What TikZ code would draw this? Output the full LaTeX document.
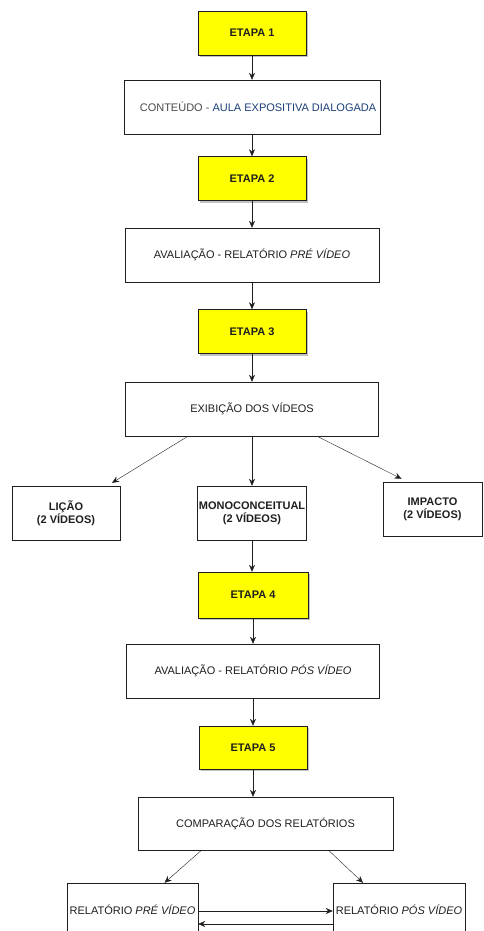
\documentclass[tikz,border=0pt]{standalone}
\usepackage{fontspec}
\setmainfont{Liberation Sans}
\usetikzlibrary{arrows.meta,calc,shadows}
\definecolor{ink}{HTML}{1F1F1F}
\definecolor{stagefill}{HTML}{FFFF00}
\definecolor{softgrey}{HTML}{4A4A4A}
\definecolor{linkblue}{HTML}{1C3F7A}
\tikzset{>={Stealth[length=7pt,width=6pt]},line width=1.1pt,
  every node/.style={font=\fontsize{11}{13}\selectfont,text=ink},
  flow/.style={->,draw=ink},
  panel/.style={draw=ink,fill=white,align=center,inner sep=0pt},
  stagebox/.style={panel,fill=stagefill,font=\fontsize{11}{13}\selectfont\bfseries,
    minimum width=108pt,minimum height=44pt,
    drop shadow={shadow xshift=2pt,shadow yshift=-2pt,fill=black!40,opacity=.6}},
  widebox/.style={panel,minimum width=254pt,minimum height=54pt},
  videobox/.style={panel,font=\fontsize{11}{13}\selectfont\bfseries,minimum height=54pt}}

\begin{document}
\begin{tikzpicture}[x=1pt,y=-1pt]
\useasboundingbox (0,0) rectangle (483,931);
\clip (0,0) rectangle (483,931);
% main column of stages
\node[stagebox] (etapa1) at (252,33) {ETAPA 1};
\node[widebox,minimum width=256pt] (conteudo) at (252,107)
  {\hspace*{12pt}\textcolor{softgrey}{CONTEÚDO - }\textcolor{linkblue}{AULA EXPOSITIVA DIALOGADA}};
\node[stagebox] (etapa2) at (252,178.5) {ETAPA 2};
\node[widebox] (avalpre) at (252,255) {AVALIAÇÃO - RELATÓRIO \textit{PRÉ VÍDEO}};
\node[stagebox] (etapa3) at (252,331.5) {ETAPA 3};
\node[widebox,minimum width=253pt] (exibicao) at (252,409) {EXIBIÇÃO DOS VÍDEOS};
% the three kinds of video
\node[videobox,minimum width=108pt] (licao) at (66,513) {LIÇÃO\\(2 VÍDEOS)};
\node[videobox,minimum width=109pt] (mono) at (252,513) {MONOCONCEITUAL\\(2 VÍDEOS)};
\node[videobox,minimum width=99pt] (impacto) at (432.5,509) {IMPACTO\\(2 VÍDEOS)};
\node[stagebox,minimum width=110pt,minimum height=46pt] (etapa4) at (253,595) {ETAPA 4};
\node[widebox,minimum width=253pt] (avalpos) at (253,671) {AVALIAÇÃO - RELATÓRIO \textit{PÓS VÍDEO}};
\node[stagebox,minimum height=43pt] (etapa5) at (253,747.5) {ETAPA 5};
\node[widebox,minimum width=255pt,minimum height=53pt] (comparacao) at (265.5,823.5) {COMPARAÇÃO DOS RELATÓRIOS};
\node[panel,minimum width=131pt,minimum height=54pt] (relpre) at (132.5,910) {RELATÓRIO \textit{PRÉ VÍDEO}};
\node[panel,minimum width=132pt,minimum height=54pt] (relpos) at (399,910) {RELATÓRIO \textit{PÓS VÍDEO}};
% connectors
\foreach \a/\b in {etapa1/conteudo,conteudo/etapa2,etapa2/avalpre,avalpre/etapa3,
  etapa3/exibicao,exibicao/mono,etapa4/avalpos,avalpos/etapa5}
  \draw[flow] (\a.south) -- (\b.north);
\draw[flow] (mono.south) -- (mono.south |- etapa4.north);
\draw[flow] (etapa5.south) -- (etapa5.south |- comparacao.north);
\draw[flow] ($(exibicao.south)+(-64,0)$) -- ($(licao.north)+(46,-3)$);
\draw[flow] ($(exibicao.south)+(65,0)$) -- ($(impacto.north)+(-31,-3)$);
\draw[flow] ($(comparacao.south)+(-64,0)$) -- ($(relpre.north)+(32,0)$);
\draw[flow] ($(comparacao.south)+(63,0)$) -- ($(relpos.north)+(-36,0)$);
\draw[flow] ($(relpre.east)+(0,1)$) -- ($(relpos.west)+(0,1)$);
\draw[flow] ($(relpos.west)+(0,14)$) -- ($(relpre.east)+(0,14)$);
\end{tikzpicture}
\end{document}
